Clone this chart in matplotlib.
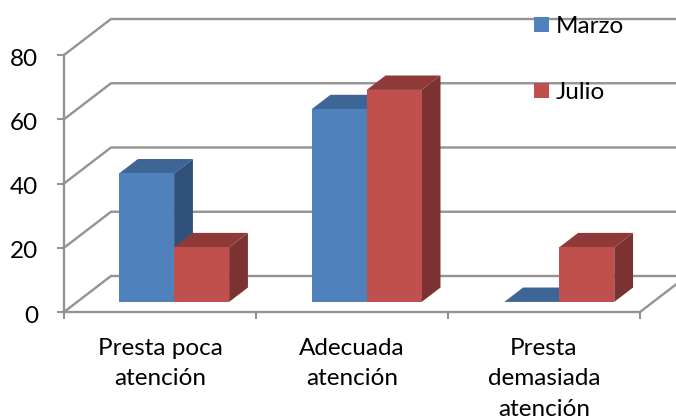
import matplotlib
matplotlib.use("Agg")
import matplotlib.pyplot as plt
from matplotlib.patches import Patch, Polygon
from matplotlib.transforms import ScaledTranslation

categories = ["Presta poca\natención", "Adecuada\natención", "Presta\ndemasiada\natención"]
series_names = ["Marzo", "Julio"]
marzo = [40, 60, 0]
julio = [17, 66, 17]
y_ticks = [0, 20, 40, 60, 80]

plt.rcParams["font.family"] = ["Lato", "DejaVu Sans"]

W, H = 676, 419
FONT = 17.5
GRID = "#939393"
FRONT = ["#4F81BD", "#C0504D"]
TOP = ["#3D6595", "#8F3A38"]
SIDE = ["#2F5179", "#7B3230"]

fig = plt.figure(figsize=(W / 100, H / 100), dpi=100)
# axes box is the front face of the 3D frame
ax = fig.add_axes([64 / W, 1 - 312 / H, 576 / W, 257 / H])
ax.set_xlim(0, 3)
ax.set_ylim(0, 80)

# depth direction, in data units per full wall depth
dx = 47 / 192
dy = 36 * 80 / 257
bar_w = 55 / 192
d_front = 0.28
d_back = 0.68
step = 1.003


def project(x, y, d):
    return (x + d * dx, y + d * dy)


# back wall gridlines and the floor/side diagonals
for v in y_ticks:
    ax.plot([project(0, v, 0)[0], project(0, v, 1)[0], project(3, v, 1)[0]],
            [project(0, v, 0)[1], project(0, v, 1)[1], project(3, v, 1)[1]],
            color=GRID, lw=1.7, clip_on=False, zorder=1, solid_joinstyle="miter")
ax.plot([3, project(3, 0, 1)[0]], [0, project(3, 0, 1)[1]],
        color=GRID, lw=1.7, clip_on=False, zorder=1)


def bar3d(x0, h, k):
    x1 = x0 + bar_w
    front = [project(x0, 0, d_front), project(x1, 0, d_front),
             project(x1, h, d_front), project(x0, h, d_front)]
    side = [project(x1, 0, d_front), project(x1, 0, d_back),
            project(x1, h, d_back), project(x1, h, d_front)]
    top = [project(x0, h, d_front), project(x1, h, d_front),
           project(x1, h, d_back), project(x0, h, d_back)]
    ax.add_patch(Polygon(side, fc=SIDE[k], ec="none", clip_on=False, zorder=3))
    ax.add_patch(Polygon(top, fc=TOP[k], ec="none", clip_on=False, zorder=3))
    ax.add_patch(Polygon(front, fc=FRONT[k], ec="none", clip_on=False, zorder=3))


for i in range(len(categories)):
    left = i * step + 0.505 - bar_w
    bar3d(left, marzo[i], 0)
    bar3d(left + bar_w, julio[i], 1)

# axes, ticks and labels
for s in ["top", "right"]:
    ax.spines[s].set_visible(False)
for s in ["left", "bottom"]:
    ax.spines[s].set_color(GRID)
    ax.spines[s].set_linewidth(1.7)
    ax.spines[s].set_zorder(2)
ax.patch.set_alpha(0)

ax.set_yticks(y_ticks)
ax.tick_params(axis="y", length=5, width=1.5, color=GRID, labelsize=FONT, pad=13.5, labelcolor="black")
# numbers sit slightly below their ticks
shift = ScaledTranslation(0, -2 / 100, fig.dpi_scale_trans)
for lab in ax.get_yticklabels():
    lab.set_transform(lab.get_transform() + shift)

ax.set_xticks([0, 1, 2, 3])
ax.set_xticklabels([])
ax.tick_params(axis="x", which="major", length=5, width=1.5, color=GRID)
ax.set_xticks([0.5, 1.5, 2.5], minor=True)
ax.set_xticklabels(categories, minor=True, fontsize=FONT, linespacing=1.56)
ax.tick_params(axis="x", which="minor", length=0, pad=18.5, labelcolor="black")

handles = [Patch(fc=FRONT[0], ec="none"), Patch(fc=FRONT[1], ec="none")]
ax.legend(handles, series_names, frameon=False, fontsize=FONT,
          loc="upper left", bbox_to_anchor=(534 / W, 1 - 16 / H),
          bbox_transform=fig.transFigure, borderaxespad=0, borderpad=0,
          handlelength=0.61, handleheight=0.61, handletextpad=0.3, labelspacing=1.85)

fig.savefig("out.png", dpi=100)
